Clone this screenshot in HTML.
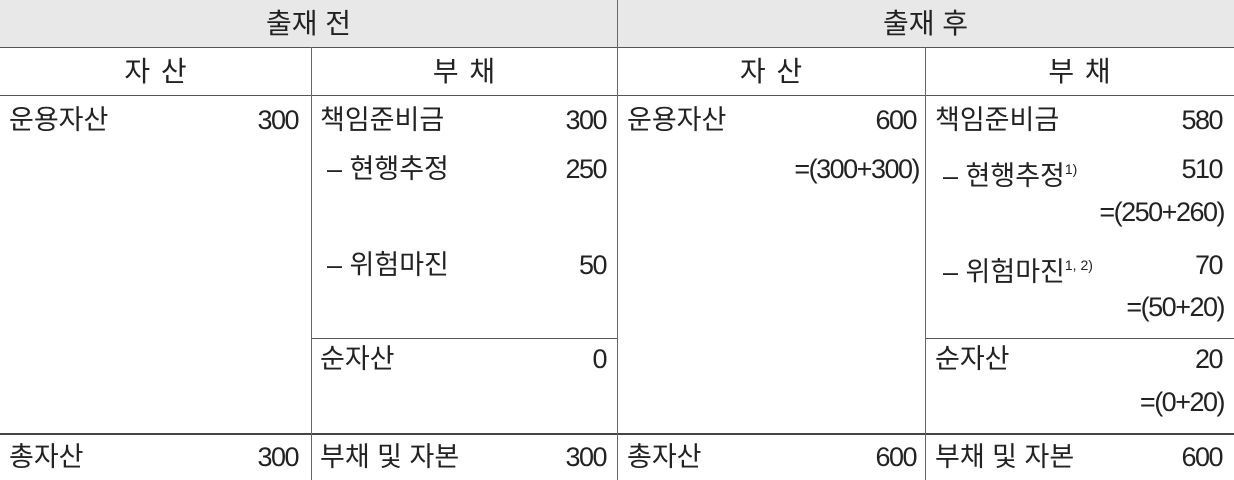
<!DOCTYPE html>
<html><head><meta charset="utf-8">
<style>
body{margin:0;width:1234px;height:480px;background:#fff;position:relative;overflow:hidden;font-family:"Liberation Sans","Noto Sans CJK KR","NanumGothic",sans-serif;color:#222}
.t{position:absolute;font-size:27px;line-height:32px;white-space:nowrap}
.l{text-align:left}
.r{text-align:right;letter-spacing:-1.5px}
.c{text-align:center;font-size:28px}
.hl{position:absolute;height:1px;background:#555}
.vl{position:absolute;width:1px;background:#666}
sup{font-size:14px;vertical-align:11px}
</style></head><body>
<div style="position:absolute;left:0;top:0;width:1234px;height:47px;background:#e8e8e8"></div>
<div class="hl" style="left:0;top:47px;width:1234px"></div>
<div class="hl" style="left:0;top:95px;width:1234px"></div>
<div class="hl" style="left:311px;top:338px;width:306px"></div>
<div class="hl" style="left:925px;top:338px;width:309px"></div>
<div class="hl" style="left:0;top:433px;width:1234px;height:2px;background:#444"></div>
<div class="vl" style="left:617px;top:0;height:480px"></div>
<div class="vl" style="left:311px;top:47px;height:433px"></div>
<div class="vl" style="left:925px;top:47px;height:433px"></div>

<div class="t c" style="left:0;width:617px;top:8px">출재 전</div>
<div class="t c" style="left:617px;width:617px;top:8px">출재 후</div>
<div class="t c" style="left:0;width:311px;top:56px;word-spacing:3px">자 산</div>
<div class="t c" style="left:311px;width:306px;top:56px;word-spacing:3px">부 채</div>
<div class="t c" style="left:617px;width:308px;top:56px;word-spacing:3px">자 산</div>
<div class="t c" style="left:925px;width:309px;top:56px;word-spacing:3px">부 채</div>

<!-- column 1 -->
<div class="t l" style="left:9px;top:104px">운용자산</div>
<div class="t r" style="right:936px;top:104px">300</div>
<div class="t l" style="left:9px;top:441px">총자산</div>
<div class="t r" style="right:936px;top:441px">300</div>

<!-- column 2 -->
<div class="t l" style="left:320px;top:104px">책임준비금</div>
<div class="t r" style="right:628px;top:104px">300</div>
<div class="t l" style="left:327px;top:153px">– 현행추정</div>
<div class="t r" style="right:628px;top:153px">250</div>
<div class="t l" style="left:327px;top:249px">– 위험마진</div>
<div class="t r" style="right:628px;top:249px">50</div>
<div class="t l" style="left:320px;top:343px">순자산</div>
<div class="t r" style="right:628px;top:343px">0</div>
<div class="t l" style="left:320px;top:441px">부채 및 자본</div>
<div class="t r" style="right:628px;top:441px">300</div>

<!-- column 3 -->
<div class="t l" style="left:627px;top:104px">운용자산</div>
<div class="t r" style="right:318px;top:104px">600</div>
<div class="t r" style="right:315px;top:153px">=(300+300)</div>
<div class="t l" style="left:627px;top:441px">총자산</div>
<div class="t r" style="right:318px;top:441px">600</div>

<!-- column 4 -->
<div class="t l" style="left:935px;top:104px">책임준비금</div>
<div class="t r" style="right:12px;top:104px">580</div>
<div class="t l" style="left:943px;top:153px">– 현행추정<sup>1)</sup></div>
<div class="t r" style="right:12px;top:153px">510</div>
<div class="t r" style="right:10px;top:196px">=(250+260)</div>
<div class="t l" style="left:943px;top:249px">– 위험마진<sup>1, 2)</sup></div>
<div class="t r" style="right:12px;top:249px">70</div>
<div class="t r" style="right:10px;top:291px">=(50+20)</div>
<div class="t l" style="left:935px;top:343px">순자산</div>
<div class="t r" style="right:12px;top:343px">20</div>
<div class="t r" style="right:10px;top:386px">=(0+20)</div>
<div class="t l" style="left:935px;top:441px">부채 및 자본</div>
<div class="t r" style="right:12px;top:441px">600</div>
</body></html>
